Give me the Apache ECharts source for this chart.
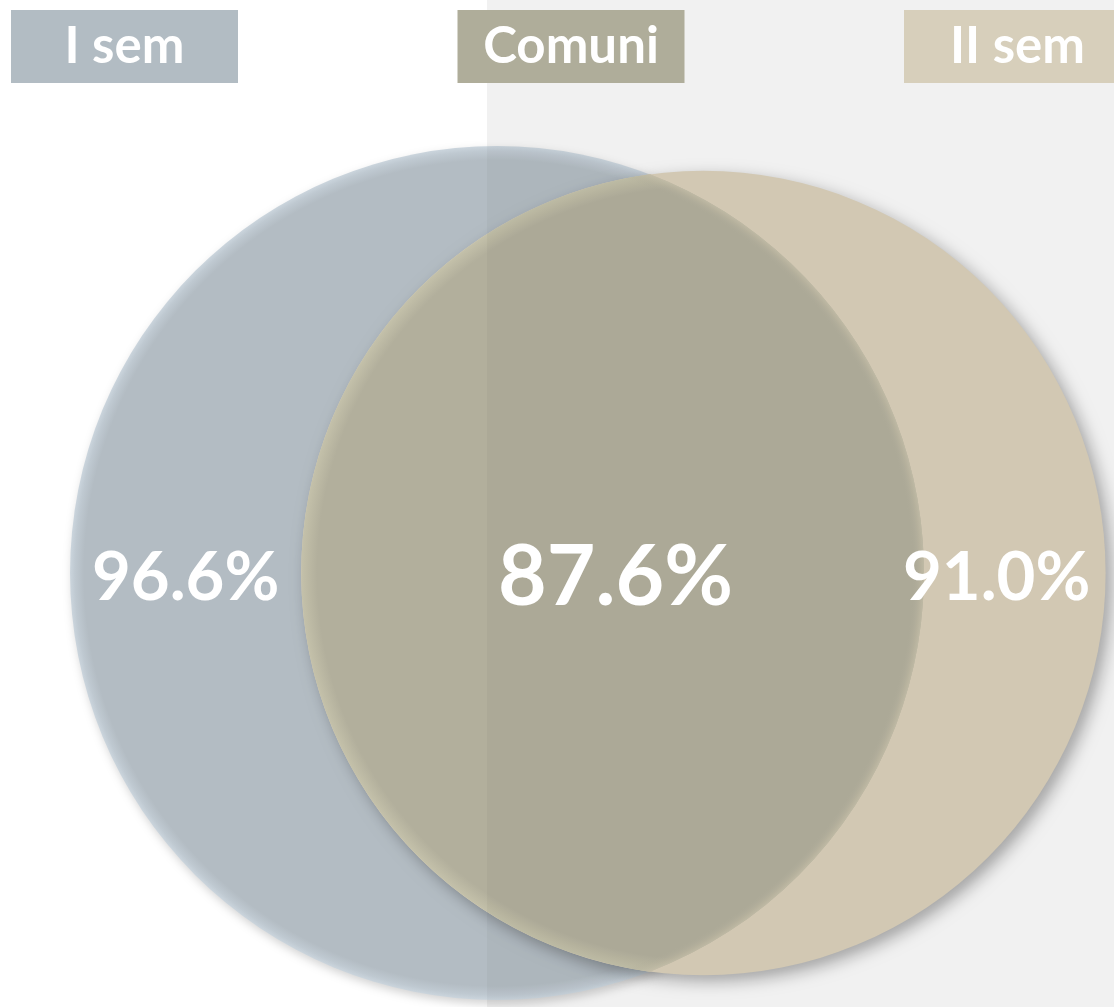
<!DOCTYPE html>
<html>
<head>
<meta charset="utf-8">
<script src="https://cdn.jsdelivr.net/npm/echarts@6/dist/echarts.min.js"></script>
<style>
  html, body { margin: 0; padding: 0; background: #ffffff; }
  #chart { width: 1114px; height: 1007px; }
</style>
</head>
<body>
<div id="chart"></div>
<script>
// ---- data ----
const setLabels = ['I sem', 'Comuni', 'II sem'];
const setPercents = [96.6, 87.6, 91.0];          // I sem, comuni, II sem
const circleRadii = [96.6, 91.0];                // circle radius (data units) = share of each semester
const circleCentersX = [0, 46.7];                // venn layout: horizontal centre of each set
const circleCentersY = [0, 0];

// ---- styles ----
const headerColors = ['#b2bcc3', '#afad9a', '#d7cfbb'];
const leftBase = '#b3bcc3', leftRim = '#cbd5dd';
const rightBase = '#d9cfb9';
const lensBase = '#b2af9c', lensRim = '#c4c1aa';

const chart = echarts.init(document.getElementById('chart'), null, { renderer: 'canvas' });

const K = 4.42; // px per data unit (both axes share it)
const W = 1114, H = 1007, CX = 497, CY = 573;

function geometry(api) {
  const p = [0, 1].map(j => api.coord([circleCentersX[j], circleCentersY[j]]));
  const r = [0, 1].map(j => api.size([circleRadii[j], 0])[0]);
  return { p, r };
}

function renderCircles(params, api) {
  const i = params.dataIndex;
  const { p, r } = geometry(api);
  const children = [];
  if (i === 0) {
    children.push({
      type: 'circle',
      shape: { cx: p[0][0], cy: p[0][1], r: r[0] },
      style: {
        fill: { type: 'radial', x: p[0][0], y: p[0][1], r: r[0], global: true,
          colorStops: [
            { offset: 0, color: leftBase },
            { offset: 1 - 14 / r[0], color: leftBase },
            { offset: 1 - 5 / r[0], color: '#bfc9d1' },
            { offset: 1, color: leftRim }
          ] },
        shadowBlur: 10, shadowOffsetX: 2, shadowOffsetY: 4, shadowColor: 'rgba(0,0,0,0.18)'
      }
    });
    return { type: 'group', children };
  }
  children.push({
    type: 'circle',
    shape: { cx: p[1][0], cy: p[1][1], r: r[1] },
    style: {
      fill: rightBase,
      shadowBlur: 16, shadowOffsetX: 6, shadowOffsetY: 6, shadowColor: 'rgba(0,0,0,0.32)'
    }
  });
  const x1 = p[0][0], y1 = p[0][1], x2 = p[1][0], y2 = p[1][1];
  const d = Math.hypot(x2 - x1, y2 - y1);
  const a = (r[0] * r[0] - r[1] * r[1] + d * d) / (2 * d);
  const h = Math.sqrt(r[0] * r[0] - a * a);
  const ux = (x2 - x1) / d, uy = (y2 - y1) / d;
  const px = x1 + a * ux, py = y1 + a * uy;
  const tx = px + h * uy, ty = py - h * ux;
  const bx = px - h * uy, by = py + h * ux;
  const lensPath = `M ${tx} ${ty} A ${r[0]} ${r[0]} 0 0 1 ${bx} ${by} A ${r[1]} ${r[1]} 0 0 1 ${tx} ${ty} Z`;
  children.push({
    type: 'path',
    shape: { pathData: lensPath },
    style: {
      fill: { type: 'radial', x: x2, y: y2, r: r[1], global: true,
        colorStops: [
          { offset: 0, color: lensBase },
          { offset: 1 - 16 / r[1], color: lensBase },
          { offset: 1, color: lensRim }
        ] }
    }
  });
  children.push({
    type: 'path',
    shape: { pathData: lensPath },
    style: {
      fill: { type: 'radial', x: x1, y: y1, r: r[0], global: true,
        colorStops: [
          { offset: 0, color: 'rgba(178,175,156,0)' },
          { offset: 1 - 12 / r[0], color: 'rgba(178,175,156,0)' },
          { offset: 1, color: 'rgba(205,197,175,0.75)' }
        ] }
    }
  });
  return { type: 'group', children };
}

function renderLabels(params, api) {
  if (params.dataIndex !== 1) return { type: 'group', children: [] };
  const { p, r } = geometry(api);
  const x1 = p[0][0], y1 = p[0][1], x2 = p[1][0], y2 = p[1][1];
  const lx = ((x1 - r[0]) + (x2 - r[1])) / 2;
  const mx = ((x2 - r[1]) + (x1 + r[0])) / 2 + 3;
  const rx = 0.6 * (x1 + r[0]) + 0.4 * (x2 + r[1]);
  const ly = (y1 + y2) / 2 + 5;
  const texts = [[setPercents[0], lx, 67], [setPercents[1], mx, 84], [setPercents[2], rx, 67]];
  return {
    type: 'group',
    children: texts.map(([v, x, fs]) => ({
      type: 'text',
      style: {
        text: v.toFixed(1) + '%', x: x, y: ly,
        fill: '#ffffff', font: 'bold ' + fs + 'px Lato',
        textAlign: 'center', textVerticalAlign: 'middle',
        align: 'center', verticalAlign: 'middle'
      }
    }))
  };
}

const headerElements = [];
setLabels.forEach((lab, i) => {
  const x = 11 + i * 446.5;
  headerElements.push({
    type: 'rect', z: 60,
    shape: { x: x, y: 10, width: 227, height: 73 },
    style: { fill: headerColors[i] }
  });
  headerElements.push({
    type: 'text', z: 61,
    style: {
      text: lab, x: x + 113.5, y: 47,
      fill: '#ffffff', font: 'bold 51px Lato',
      textAlign: 'center', textVerticalAlign: 'middle',
      align: 'center', verticalAlign: 'middle'
    }
  });
});

const seriesData = circleRadii.map((rr, j) => [circleCentersX[j], circleCentersY[j], rr]);

const option = {
  animation: false,
  backgroundColor: '#ffffff',
  grid: { left: 0, right: 0, top: 0, bottom: 0 },
  xAxis: { type: 'value', min: -CX / K, max: (W - CX) / K, show: false },
  yAxis: { type: 'value', min: -(H - CY) / K, max: CY / K, show: false },
  graphic: [
    { type: 'rect', z: 0, shape: { x: 487, y: 0, width: W - 487, height: H }, style: { fill: '#f9f9f9' } },
    { type: 'rect', z: 50, shape: { x: 487, y: 0, width: W - 487, height: H }, style: { fill: 'rgba(0,0,0,0.03)' } }
  ].concat(headerElements),
  series: [{
    type: 'custom',
    coordinateSystem: 'cartesian2d',
    renderItem: renderCircles,
    data: seriesData,
    silent: true,
    clip: false,
    z: 2
  }, {
    type: 'custom',
    coordinateSystem: 'cartesian2d',
    renderItem: renderLabels,
    data: seriesData,
    silent: true,
    clip: false,
    z: 55
  }]
};
chart.setOption(option);
</script>
</body>
</html>
